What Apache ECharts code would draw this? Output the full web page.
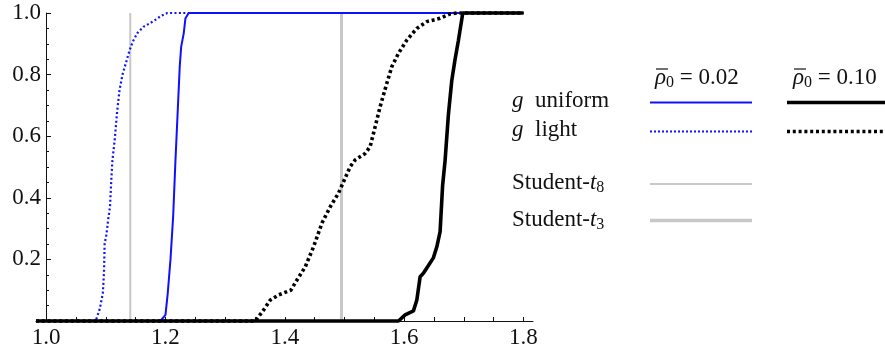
<!DOCTYPE html>
<html><head><meta charset="utf-8">
<script src="https://cdn.jsdelivr.net/npm/echarts@6/dist/echarts.min.js"></script>
<style>html,body{margin:0;padding:0;background:#fff}#c{width:885px;height:350px}</style>
</head><body><div id="c"></div>
<script>
// ---- data ----
const xTickValues = [1.0,1.05,1.1,1.15,1.2,1.25,1.3,1.35,1.4,1.45,1.5,1.55,1.6,1.65,1.7,1.75,1.8];
const xLabelValues = [1.0,1.2,1.4,1.6,1.8];
const studentT8 = 1.141;
const studentT3 = 1.495;
const lightRho002 = [[0.983,0],[1.083,0],[1.090,0.04],[1.095,0.09],[1.097,0.16],[1.098,0.25],[1.101,0.28],[1.104,0.33],[1.107,0.37],[1.109,0.45],[1.111,0.52],[1.115,0.59],[1.119,0.68],[1.123,0.75],[1.128,0.80],[1.134,0.84],[1.140,0.88],[1.146,0.91],[1.153,0.935],[1.163,0.955],[1.175,0.968],[1.185,0.98],[1.192,0.99],[1.203,1.0],[1.8,1.0]];
const uniformRho002 = [[0.983,0],[1.1916,0],[1.200,0.02],[1.2038,0.09],[1.2084,0.20],[1.2129,0.34],[1.2167,0.52],[1.2206,0.685],[1.2239,0.826],[1.2263,0.89],[1.2306,0.934],[1.2335,0.983],[1.239,1.0],[1.8,1.0]];
const lightRho010 = [[0.983,0],[1.3506,0],[1.3645,0.036],[1.3757,0.068],[1.390,0.085],[1.410,0.10],[1.4204,0.133],[1.4343,0.176],[1.4482,0.241],[1.4623,0.318],[1.4762,0.371],[1.49,0.415],[1.4984,0.452],[1.5096,0.501],[1.518,0.523],[1.5347,0.544],[1.543,0.566],[1.5515,0.631],[1.5598,0.696],[1.571,0.772],[1.5794,0.826],[1.5905,0.869],[1.6045,0.912],[1.6213,0.95],[1.638,0.972],[1.6603,0.983],[1.677,0.997],[1.688,1.0],[1.8,1.0]];
const uniformRho010 = [[0.983,0],[1.5905,0],[1.6017,0.02],[1.6156,0.033],[1.6213,0.068],[1.6268,0.144],[1.6323,0.155],[1.6407,0.18],[1.649,0.205],[1.6547,0.24],[1.6603,0.29],[1.6645,0.44],[1.6686,0.52],[1.6742,0.67],[1.6798,0.78],[1.6854,0.85],[1.6909,0.91],[1.6983,1.0],[1.8,1.0]];

const FONT = '"Liberation Serif", "DejaVu Serif", serif';
const BLUE = '#1010ff';
const GRAY = '#c8c8c8';
const chart = echarts.init(document.getElementById('c'), null, {renderer:'canvas'});

const subRich = {
  n: {fontFamily: FONT, fontSize: 23, lineHeight: 26, verticalAlign: 'middle', color: '#111'},
  it: {fontFamily: FONT, fontSize: 23, fontStyle: 'italic', lineHeight: 26, verticalAlign: 'middle', color: '#111'},
  sub: {fontFamily: FONT, fontSize: 16, lineHeight: 15, verticalAlign: 'bottom', color: '#111'}
};
function txt(x, y, text, align) {
  return {type: 'text', x: x, y: y, style: {text: text, rich: subRich, font: '23px ' + FONT, fill: '#111', align: align || 'left', verticalAlign: 'middle'}};
}
function seg(x1, x2, y, color, width, dash) {
  return {type: 'line', shape: {x1: x1, y1: y, x2: x2, y2: y}, style: {stroke: color, lineWidth: width, lineDash: dash || null}};
}

const option = {
  animation: false,
  grid: {left: 36, right: 352, top: 13, bottom: 29, containLabel: false},
  xAxis: {
    type: 'value', min: 0.983, max: 1.816,
    axisLine: {show: true, onZero: false, lineStyle: {color: '#111', width: 1}},
    axisTick: {show: true, inside: true, length: 4, customValues: xTickValues, lineStyle: {color: '#111'}},
    axisLabel: {customValues: xLabelValues, formatter: v => v.toFixed(1), fontFamily: FONT, fontSize: 23, color: '#111', margin: 5},
    splitLine: {show: false}
  },
  yAxis: {
    type: 'value', min: 0, max: 1, interval: 0.2, offset: -10,
    axisLine: {show: true, onZero: false, lineStyle: {color: '#111', width: 1}},
    axisTick: {show: true, inside: true, length: 5, lineStyle: {color: '#111'}},
    minorTick: {show: true, splitNumber: 4, length: 3, lineStyle: {color: '#111'}},
    axisLabel: {formatter: v => v === 0 ? '' : v.toFixed(1), fontFamily: FONT, fontSize: 23, color: '#111', margin: 5},
    splitLine: {show: false}
  },
  series: [
    {type: 'line', data: [[studentT8, 0], [studentT8, 1]], symbol: 'none', clip: false, lineStyle: {color: GRAY, width: 2}},
    {type: 'line', data: [[studentT3, 0], [studentT3, 1]], symbol: 'none', clip: false, lineStyle: {color: GRAY, width: 3}},
    {type: 'line', data: lightRho002, symbol: 'none', clip: false, lineStyle: {color: BLUE, width: 2.2, type: [2, 2.4]}},
    {type: 'line', data: uniformRho002, symbol: 'none', clip: false, lineStyle: {color: BLUE, width: 2}},
    {type: 'line', data: lightRho010, symbol: 'none', clip: false, lineStyle: {color: '#000', width: 3.6, type: [3, 2.8]}},
    {type: 'line', data: uniformRho010, symbol: 'none', clip: false, lineStyle: {color: '#000', width: 3.6}}
  ],
  graphic: [
    txt(655, 78, '{it|ρ}{sub|0}{n| = 0.02}'),
    txt(793, 78, '{it|ρ}{sub|0}{n| = 0.10}'),
    seg(656, 668, 69, '#111', 1.2),
    seg(794, 806, 69, '#111', 1.2),
    txt(512, 101, '{it|g}{n|  uniform}'),
    txt(512, 130, '{it|g}{n|  light}'),
    txt(512, 183, '{n|Student-}{it|t}{sub|8}'),
    txt(512, 220, '{n|Student-}{it|t}{sub|3}'),
    seg(650, 752, 102.5, BLUE, 2.2),
    seg(650, 752, 131.5, BLUE, 2, [2, 2]),
    seg(787, 885, 102.5, '#000', 3.6),
    seg(787, 885, 131.5, '#000', 3.6, [3, 2.8]),
    seg(650, 752, 184, GRAY, 2),
    seg(650, 752, 220.5, GRAY, 3.5)
  ]
};
chart.setOption(option);
</script></body></html>
